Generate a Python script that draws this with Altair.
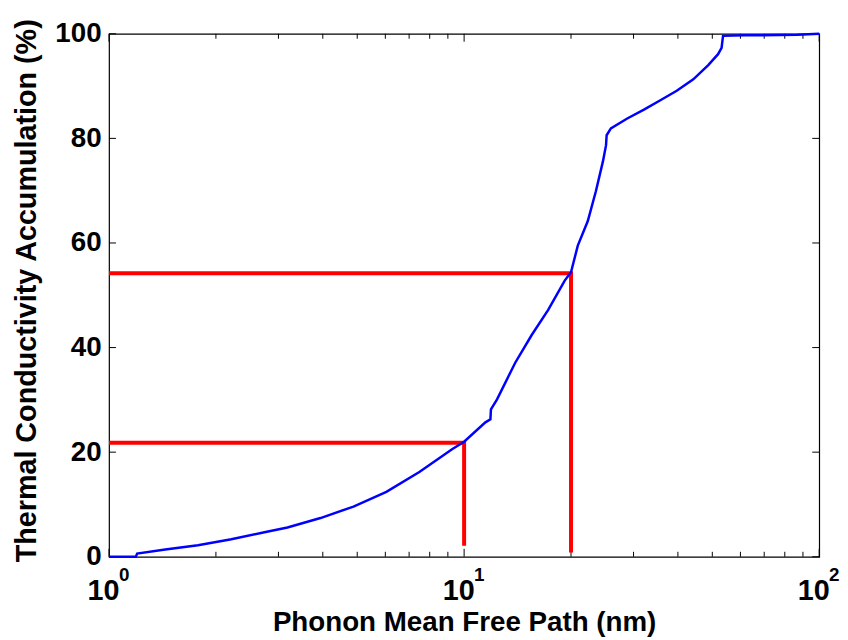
import altair as alt
import pandas as pd

# ---- data ----
mfp_nm = [1.0, 1.19, 1.20, 1.44, 1.78, 2.21, 2.74, 3.18, 3.94, 4.88, 6.04, 7.48,
          9.27, 10.0, 11.48, 11.86, 11.9, 12.38, 13.93, 15.5, 17.25, 19.2, 20.0,
          20.9, 22.3, 23.5, 24.6, 25.1, 25.2, 25.9, 28.8, 32.1, 35.7, 39.7, 44.2,
          48.7, 51.9, 53.1, 53.6, 61.6, 86.9, 100.0]
accum_pct = [0.0, 0.0, 0.6, 1.4, 2.2, 3.35, 4.7, 5.6, 7.4, 9.6, 12.4, 16.2,
             20.6, 22.0, 25.7, 26.3, 28.2, 30.1, 37.1, 42.4, 47.2, 52.8, 54.4,
             59.5, 64.2, 69.9, 75.6, 78.7, 80.6, 81.9, 83.8, 85.5, 87.3, 89.1, 91.3,
             94.0, 96.1, 97.3, 99.6, 99.7, 99.8, 100.0]

guide_id = ["10 nm", "10 nm", "10 nm", "20 nm", "20 nm", "20 nm"]
guide_x = [1, 10, 10, 1, 20, 20]
guide_y = [21.8, 21.8, 2.1, 54.2, 54.2, 0.8]
guide_order = [0, 1, 2, 0, 1, 2]

x_major = [1, 10, 100]
x_exponents = ["0", "1", "2"]
x_minor = [2, 3, 4, 5, 6, 7, 8, 9, 20, 30, 40, 50, 60, 70, 80, 90]
y_ticks = [0, 20, 40, 60, 80, 100]

W, H = 717, 528
FONT = "Liberation Sans"

curve = pd.DataFrame({"x": mfp_nm, "y": accum_pct})
guides = pd.DataFrame({"g": guide_id, "x": guide_x, "y": guide_y, "o": guide_order})
major_df = pd.DataFrame({"x": x_major, "e": x_exponents})
minor_df = pd.DataFrame({"x": x_minor})
yt_df = pd.DataFrame({"y": y_ticks})

xscale = alt.Scale(type="log", domain=[1, 100], nice=False)
yscale = alt.Scale(domain=[0, 100], nice=False, zero=False)

x_axis = alt.Axis(values=x_major, labelExpr="'10'", labelFont=FONT,
                  labelFontSize=29, labelFontWeight="bold", labelColor="black",
                  labelBaseline="alphabetic", labelPadding=43, labelOffset=-6,
                  labelFlush=False, labelOverlap=False, ticks=False, tickSize=0,
                  grid=False, domain=False,
                  title="Phonon Mean Free Path (nm)", titleFont=FONT,
                  titleFontSize=28, titleFontWeight="bold", titleColor="black",
                  titleBaseline="alphabetic", titleY=74)
y_axis = alt.Axis(values=y_ticks, labelFont=FONT, labelFontSize=28,
                  labelFontWeight="bold", labelColor="black", labelPadding=8,
                  labelFlush=False, labelOverlap=False, ticks=False, tickSize=0,
                  grid=False, domain=False,
                  title="Thermal Conductivity Accumulation (%)", titleFont=FONT,
                  titleFontSize=29, titleFontWeight="bold", titleColor="black",
                  titleAngle=270, titleAlign="center", titleBaseline="alphabetic",
                  titleX=-74, titleY=259)

def xenc():
    return alt.X("x:Q", scale=xscale, axis=x_axis)

def yenc():
    return alt.Y("y:Q", scale=yscale, axis=y_axis)

# inward ticks
tick_style = dict(color="black", strokeWidth=1)
maj_bot = alt.Chart(major_df).mark_rule(**tick_style).encode(
    x=xenc(), y=alt.value(H), y2=alt.value(H - 8))
maj_top = alt.Chart(major_df).mark_rule(**tick_style).encode(
    x=xenc(), y=alt.value(0), y2=alt.value(8))
min_bot = alt.Chart(minor_df).mark_rule(**tick_style).encode(
    x=xenc(), y=alt.value(H), y2=alt.value(H - 5))
min_top = alt.Chart(minor_df).mark_rule(**tick_style).encode(
    x=xenc(), y=alt.value(0), y2=alt.value(5))
y_left = alt.Chart(yt_df).mark_rule(**tick_style).encode(
    y=yenc(), x=alt.value(0), x2=alt.value(7))
y_right = alt.Chart(yt_df).mark_rule(**tick_style).encode(
    y=yenc(), x=alt.value(W), x2=alt.value(W - 7))

red = alt.Chart(guides).mark_line(color="#ff0000", strokeWidth=4).encode(
    x=xenc(), y=yenc(), detail="g:N", order="o:Q")

blue = alt.Chart(curve).mark_line(color="#0000ff", strokeWidth=2.5).encode(
    x=xenc(), y=yenc())

sup = alt.Chart(major_df).mark_text(align="left", baseline="alphabetic", dx=10,
                                    font=FONT, fontSize=19, fontWeight="bold",
                                    color="black").encode(
    x=xenc(), y=alt.value(H + 24), text="e:N")

chart = alt.layer(maj_bot, maj_top, min_bot, min_top, y_left, y_right, red, blue, sup).properties(
    width=W, height=H,
    autosize=alt.AutoSizeParams(type="none"),
    padding={"left": 102, "top": 23, "right": 21, "bottom": 80},
    background="white",
).configure_view(stroke="black", strokeWidth=1.2)

chart.save("out.html", embed_options={"renderer": "svg", "actions": False})
